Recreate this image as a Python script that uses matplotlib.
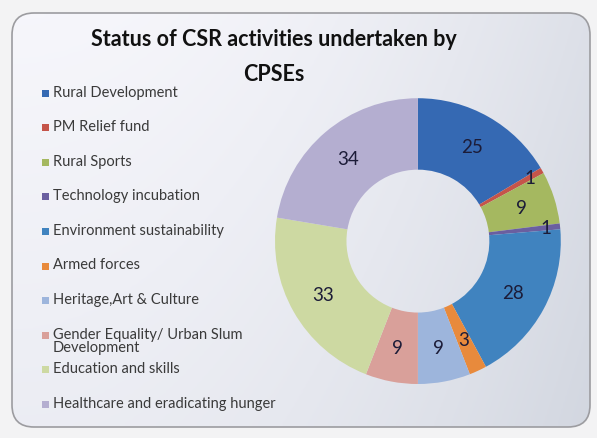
import numpy as np
import matplotlib.pyplot as plt
from matplotlib.patches import FancyBboxPatch, Rectangle

categories = [
    "Rural Development",
    "PM Relief fund",
    "Rural Sports",
    "Technology incubation",
    "Environment sustainability",
    "Armed forces",
    "Heritage,Art & Culture",
    "Gender Equality/ Urban Slum\nDevelopment",
    "Education and skills",
    "Healthcare and eradicating hunger",
]
values = [25, 1, 9, 1, 28, 3, 9, 9, 33, 34]
colors = ["#3569b3", "#c5544a", "#a5b860", "#6a5fa0", "#4083bf",
          "#e88a3c", "#9db5dc", "#d9a09a", "#cdd9a2", "#b4aed0"]

plt.rcParams["font.family"] = ["Lato", "DejaVu Sans"]

W, H = 597, 439
fig = plt.figure(figsize=(W / 100, H / 100), dpi=100)
fig.patch.set_facecolor("#f3f3f4")

# background panel with a soft left-to-right gradient
bg = fig.add_axes([0, 0, 1, 1])
bg.set_xlim(0, W)
bg.set_ylim(H, 0)
bg.axis("off")
frame = FancyBboxPatch((12, 14), 578, 414, boxstyle="round,pad=0,rounding_size=22",
                       facecolor="none", edgecolor="#9c9ca0", linewidth=1.2, zorder=3)
bg.add_patch(frame)
gx = np.linspace(0, 1, 256)
gy = np.linspace(0, 1, 64)[:, None]
grad = 0.6 * gx[None, :] ** 2 + 0.25 * gy
c0 = np.array([0.965, 0.965, 0.985])
c1 = np.array([0.80, 0.82, 0.86])
img = c0 + (c1 - c0) * np.clip(grad, 0, 1)[..., None]
im = bg.imshow(img, extent=(12, 590, 428, 14), aspect="auto", zorder=1)
im.set_clip_path(frame)

# title
fig.text(274 / W, 1 - 39 / H, "Status of CSR activities undertaken by",
         ha="center", va="center", fontsize=15.5, fontweight="bold", color="#111111")
fig.text(274 / W, 1 - 75 / H, "CPSEs",
         ha="center", va="center", fontsize=15.5, fontweight="bold", color="#111111")

# legend, drawn as squares and text
for i, (lab, col) in enumerate(zip(categories, colors)):
    y = 94 + i * 34.6
    bg.add_patch(Rectangle((42, y - 3.5), 7, 7, facecolor=col, edgecolor="none", zorder=4))
    bg.text(53, y - 8.5, lab, ha="left", va="top", fontsize=10.5, color="#3a3a3a",
            linespacing=0.9, zorder=4)

# donut
ax = fig.add_axes([0.4605, 0.123, 0.479, 0.651])
wedges, _ = ax.pie(values, colors=colors, startangle=90, counterclock=False,
                   wedgeprops=dict(width=0.5, edgecolor="none"))
for w, v in zip(wedges, values):
    ang = np.deg2rad((w.theta1 + w.theta2) / 2)
    r = 0.9 if v == 1 else 0.76
    ax.text(r * np.cos(ang), r * np.sin(ang), str(v), ha="center", va="center",
            fontsize=13.5, color="#1c1c38")
ax.set_xlim(-1, 1)
ax.set_ylim(-1, 1)
ax.set_aspect("equal")

fig.savefig("out.png", dpi=100)
